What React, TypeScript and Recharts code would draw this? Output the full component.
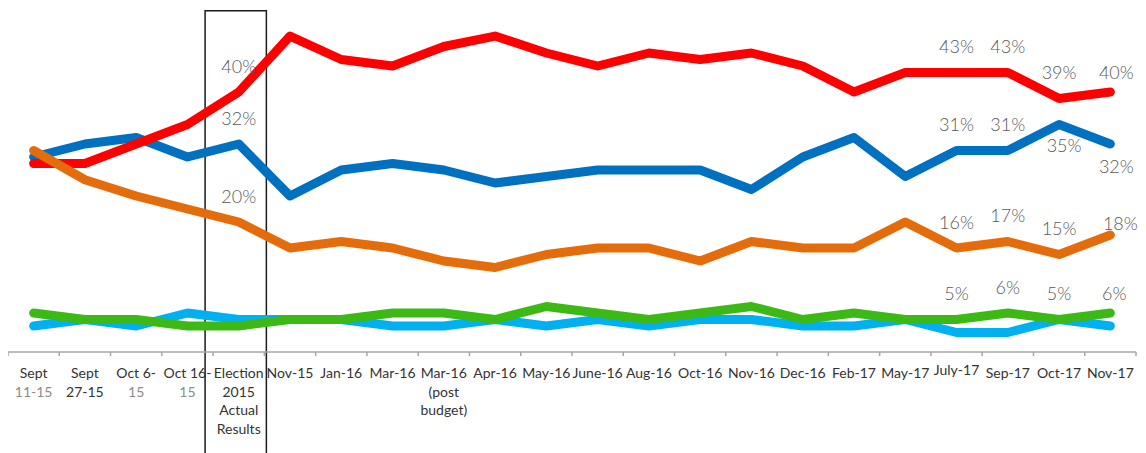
import React from "react";
import { LineChart, Line, XAxis, YAxis, ReferenceArea } from "recharts";

const categories = [
  "Sept\n11-15", "Sept\n27-15", "Oct 6-\n15", "Oct 16-\n15", "Election\n2015\nActual\nResults",
  "Nov-15", "Jan-16", "Mar-16", "Mar-16\n(post\nbudget)", "Apr-16", "May-16", "June-16",
  "Aug-16", "Oct-16", "Nov-16", "Dec-16", "Feb-17", "May-17", "July-17", "Sep-17", "Oct-17", "Nov-17",
];
const redSeries = [29, 29, 32, 35, 40, 48.6, 45, 44, 47, 48.6, 46, 44, 46, 45, 46, 44, 40, 43, 43, 43, 39, 40];
const blueSeries = [30, 32, 33, 30, 32, 24, 28, 29, 28, 26, 27, 28, 28, 28, 25, 30, 33, 27, 31, 31, 35, 32];
const orangeSeries = [31, 26.5, 24, 22, 20, 16, 17, 16, 14, 13, 15, 16, 16, 14, 17, 16, 16, 20, 16, 17, 15, 18];
const greenSeries = [6, 5, 5, 4, 4, 5, 5, 6, 6, 5, 7, 6, 5, 6, 7, 5, 6, 5, 5, 6, 5, 6];
const lightBlueSeries = [4, 5, 4, 6, 5, 5, 5, 4, 4, 5, 4, 5, 4, 5, 5, 4, 4, 5, 3, 3, 5, 4];

const labeledIndices: Record<string, number[]> = {
  red: [4, 18, 19, 20, 21],
  blue: [4, 18, 19, 20, 21],
  orange: [4, 18, 19, 20, 21],
  green: [18, 19, 20, 21],
  lightBlue: [],
};
const grayFirstSubLine = [0, 2, 3];

const data = categories.map((c, i) => ({
  cat: c,
  red: redSeries[i],
  blue: blueSeries[i],
  orange: orangeSeries[i],
  green: greenSeries[i],
  lightBlue: lightBlueSeries[i],
}));

// label placement tweaks (style): [dx, dy of text center relative to point]
const labelShift: Record<string, Record<number, [number, number]>> = {
  red: { 21: [6, -20] },
  blue: { 20: [5, 20.5], 21: [6, 22] },
  orange: { 21: [10, -12.5] },
  green: { 21: [4, -20] },
};

const makeLabel = (key: string) => (props: any) => {
  const { x, y, value, index } = props;
  if (!labeledIndices[key].includes(index)) return null;
  const s = (labelShift[key] && labelShift[key][index]) || [0, -26.5];
  return (
    <text
      key={`${key}-${index}`}
      x={x + s[0]}
      y={y + s[1]}
      textAnchor="middle"
      dominantBaseline="central"
      fill="#595959"
      stroke="none"
      fontSize={18}
      fontFamily="Lato, sans-serif"
      fontWeight={300}
    >
      {`${Math.round(value)}%`}
    </text>
  );
};

const Tick = (props: any) => {
  const { x, y, payload, index, visibleTicksCount } = props;
  const lines = String(payload.value).split("\n");
  const off = payload.offset ? payload.offset : 25.64;
  const isLast = index === (visibleTicksCount ?? categories.length) - 1;
  const raise = lines[0] === "July-17" ? -3 : 0;
  return (
    <g>
      <line x1={x - off} x2={x - off} y1={y} y2={y + 4} stroke="#a6a6a6" strokeWidth={1.5} />
      {isLast && <line x1={x + off} x2={x + off} y1={y} y2={y + 4} stroke="#a6a6a6" strokeWidth={1.5} />}
      <text textAnchor="middle" fontSize={14} fontFamily="Lato, sans-serif" fill="#333333" stroke="none">
        {lines.map((l, i) => (
          <tspan
            key={i}
            x={x}
            y={y + 26 + raise + i * 18.5}
            fill={i === 1 && grayFirstSubLine.includes(index) ? "#8c8c8c" : "#333333"}
          >
            {l}
          </tspan>
        ))}
      </text>
    </g>
  );
};

const BoxShape = (props: any) => {
  const { x, y, width, height } = props;
  return <rect x={x - 8} y={y} width={width + 10} height={height} fill="none" stroke="#1a1a1a" strokeWidth={1.5} />;
};

export default function App() {
  return (
    <div style={{ width: 1130, height: 445 }}>
      <LineChart width={1130} height={445} data={data} margin={{ top: 19, right: 2, bottom: 21, left: 0 }}>
        <XAxis
          dataKey="cat"
          type="category"
          scale="band"
          interval={0}
          height={80}
          tickLine={false}
          tickSize={0}
          tickMargin={0}
          axisLine={{ stroke: "#a6a6a6", strokeWidth: 1.5 }}
          tick={<Tick />}
        />
        <YAxis hide domain={[0, 50]} />
        <Line dataKey="lightBlue" stroke="#00b0f0" strokeWidth={9} dot={false} isAnimationActive={false} strokeLinecap="round" strokeLinejoin="round" label={makeLabel("lightBlue")} />
        <Line dataKey="blue" stroke="#0070c0" strokeWidth={9} dot={false} isAnimationActive={false} strokeLinecap="round" strokeLinejoin="round" label={makeLabel("blue")} />
        <Line dataKey="red" stroke="#ff0000" strokeWidth={9} dot={false} isAnimationActive={false} strokeLinecap="round" strokeLinejoin="round" label={makeLabel("red")} />
        <Line dataKey="orange" stroke="#e46c0a" strokeWidth={9} dot={false} isAnimationActive={false} strokeLinecap="round" strokeLinejoin="round" label={makeLabel("orange")} />
        <Line dataKey="green" stroke="#3cb914" strokeWidth={9} dot={false} isAnimationActive={false} strokeLinecap="round" strokeLinejoin="round" label={makeLabel("green")} />
        <ReferenceArea
          x1={categories[4]}
          x2={categories[4]}
          y1={-16}
          y2={52.5}
          ifOverflow="visible"
          shape={<BoxShape />}
        />
      </LineChart>
    </div>
  );
}
